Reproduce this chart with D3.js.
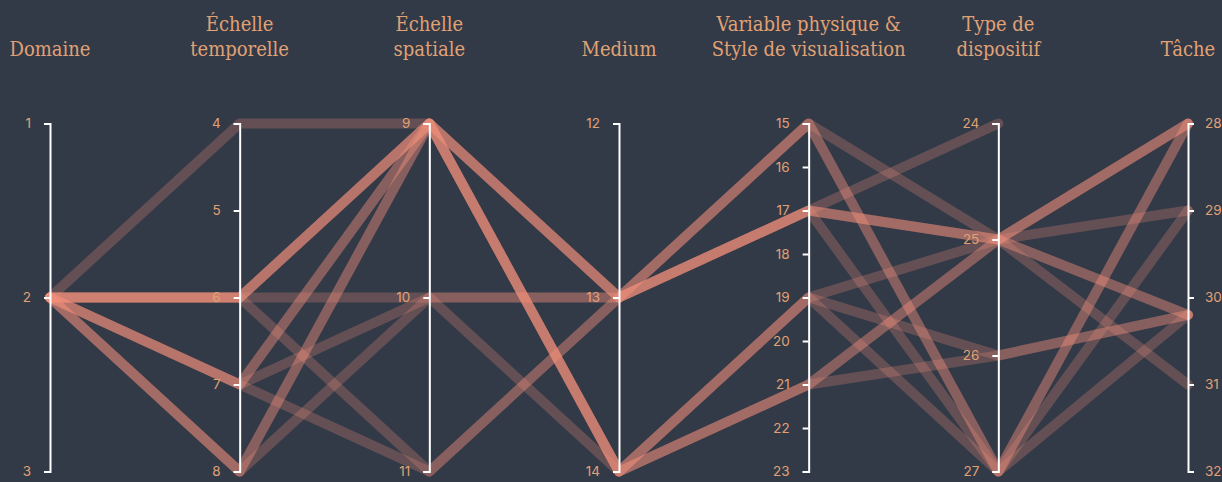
<!DOCTYPE html>
<html>
<head>
<meta charset="utf-8">
<script src="https://cdn.jsdelivr.net/npm/d3@7"></script>
<style>
  html, body { margin: 0; padding: 0; background: #333a47; }
  svg { display: block; }
</style>
</head>
<body>
<svg id="chart" width="1222" height="482"></svg>
<script>
// ---- Data ----
const dimensions = ["domaine", "temporelle", "spatiale", "medium", "variable", "dispositif", "tache"];
const titles = [
  ["Domaine"],
  ["Échelle", "temporelle"],
  ["Échelle", "spatiale"],
  ["Medium"],
  ["Variable physique &", "Style de visualisation"],
  ["Type de", "dispositif"],
  ["Tâche"]
];
const domainMin = [1, 4, 9, 12, 15, 24, 28];
const domainMax = [3, 8, 11, 14, 23, 27, 32];

// one entry per record
const domaine    = [2, 2, 2, 2, 2, 2, 2, 2, 2, 2, 2, 2, 2, 2];
const temporelle = [4, 6, 6, 6, 6, 6, 6, 7, 7, 7, 7, 8, 8, 8];
const spatiale   = [9, 9, 9, 9, 9, 10, 11, 9, 9, 10, 11, 9, 9, 10];
const medium     = [13, 13, 13, 13, 14, 13, 13, 14, 14, 13, 13, 14, 14, 14];
const variable   = [15, 17, 17, 17, 19, 15, 15, 19, 19, 17, 17, 21, 21, 21];
const dispositif = [25, 25, 25, 25, 25, 27, 27, 26, 27, 27, 24, 25, 25, 26];
const tache      = [28, 28, 28, 29, 30.2, 28, 28, 30.2, 30.2, 29, null, 30.2, 31, 30.2];

const columns = [domaine, temporelle, spatiale, medium, variable, dispositif, tache];
const records = domaine.map((_, i) => columns.map(c => c[i]));

// ---- Layout ----
const svg = d3.select("#chart");
const yTop = 123.5, yBottom = 471.5;
const x = d3.scalePoint().domain(d3.range(dimensions.length)).range([50, 1188]);
const yScales = dimensions.map((d, i) =>
  d3.scaleLinear().domain([domainMin[i], domainMax[i]]).range([yTop, yBottom]));

const textColor = "#e0a275";

// lines
const line = d3.line()
  .defined(d => d[1] !== null)
  .x(d => x(d[0]))
  .y(d => yScales[d[0]](d[1]));

svg.append("g")
  .selectAll("path")
  .data(records)
  .join("path")
  .attr("d", r => line(r.map((v, i) => [i, v])))
  .attr("fill", "none")
  .attr("stroke", "#f2907c")
  .attr("stroke-opacity", 0.25)
  .attr("stroke-width", 10)
  .attr("stroke-linecap", "round")
  .attr("stroke-linejoin", "round");

// axes
dimensions.forEach((d, i) => {
  const isLast = i === dimensions.length - 1;
  const ticks = d3.range(domainMin[i], domainMax[i] + 1);
  const axis = (isLast ? d3.axisRight(yScales[i]) : d3.axisLeft(yScales[i]))
    .tickValues(ticks)
    .tickFormat(d3.format("d"))
    .tickSize(6)
    .tickPadding(isLast ? 11 : 13);
  const g = svg.append("g")
    .attr("transform", `translate(${x(i)},0)`)
    .call(axis);
  g.select(".domain").attr("stroke", "#ffffff").attr("stroke-width", 2);
  g.selectAll(".tick line").attr("stroke", "#ffffff").attr("stroke-width", 2);
  g.selectAll(".tick text")
    .attr("fill", textColor)
    .style("font-family", "Inter, Roboto, sans-serif")
    .style("font-size", "13.5px");

  // title
  const lines = titles[i];
  const t = svg.append("text")
    .attr("x", x(i))
    .attr("text-anchor", "middle")
    .attr("fill", textColor)
    .style("font-family", "'DejaVu Serif Condensed', 'DejaVu Serif', serif")
    .style("font-stretch", "condensed")
    .style("font-size", "20px");
  lines.forEach((l, k) => {
    t.append("tspan")
      .attr("x", x(i))
      .attr("y", 56 - (lines.length - 1 - k) * 25)
      .text(l);
  });
});
</script>
</body>
</html>
